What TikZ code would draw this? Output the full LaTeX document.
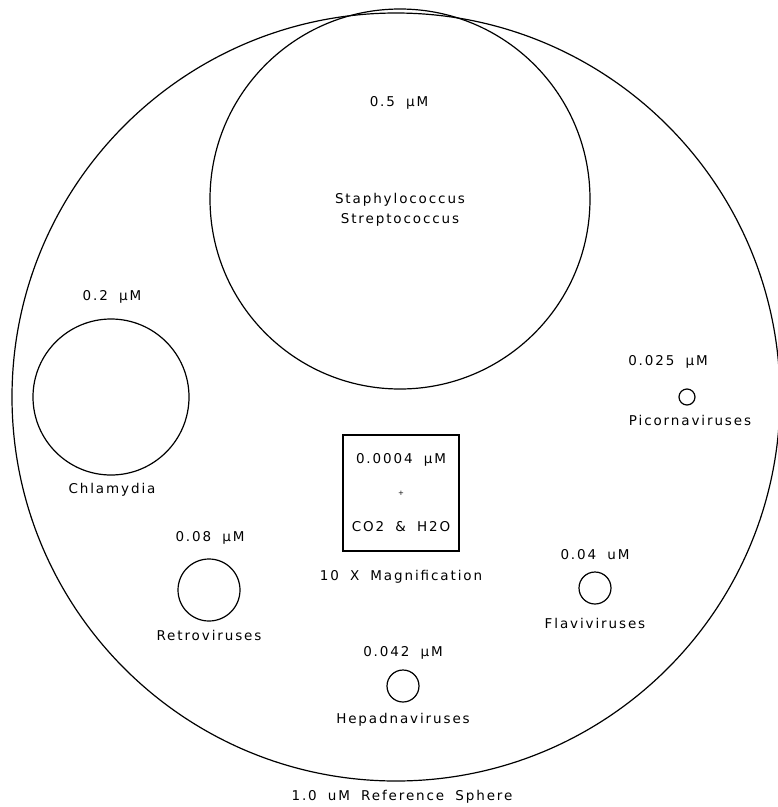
\documentclass[tikz,border=0pt]{standalone}
\usepackage{fontspec}
\newfontfamily\plotfont[LetterSpace=14,WordSpace=1.8]{DejaVu Sans}
\usetikzlibrary{positioning}

\begin{document}
\begin{tikzpicture}[x=1pt,y=-1pt]
  % Centres of the spheres
  \coordinate (ref) at (396,397);
  \coordinate (staph) at (400,199);
  \coordinate (chlam) at (111,397);
  \coordinate (retro) at (209,590);
  \coordinate (hepa) at (403,686);
  \coordinate (flavi) at (595,588);
  \coordinate (picorna) at (687,397);
  % Styles
  \tikzstyle{sphere}=[line width=1.2pt]
  \tikzstyle{label}=[font=\plotfont\fontsize{13.5}{20}\selectfont,inner sep=0pt,align=center]
  \tikzstyle{magbox}=[draw,line width=1.4pt,minimum width=116pt,minimum height=116pt,inner sep=0pt]

  % The graphic
  \useasboundingbox (0,0) rectangle (778,807);
  \draw[style=sphere] (ref) circle[radius=384pt];
  \draw[style=sphere] (staph) circle[radius=190pt];
  \draw[style=sphere] (chlam) circle[radius=78pt];
  \draw[style=sphere] (retro) circle[radius=31pt];
  \draw[style=sphere] (hepa) circle[radius=16pt];
  \draw[style=sphere] (flavi) circle[radius=16pt];
  \draw[style=sphere] (picorna) circle[radius=8pt];

  % Sizes and names
  \node[label] (staphsize) at (399,103) {0.5 μM};
  \node[label] (staphname) at (400,210) {Staphylococcus\\Streptococcus};
  \node[label] (chlamsize) at (112,297) {0.2 μM};
  \node[label] (chlamname) at (112,490) {Chlamydia};
  \node[label] (picornasize) at (668,362) {0.025 μM};
  \node[label] (picornaname) at (690,420) {Picornaviruses};
  \node[label] (retrosize) at (210,538) {0.08 μM};
  \node[label] (retroname) at (209,635) {Retroviruses};
  \node[label] (flavisize) at (595,555) {0.04 uM};
  \node[label] (flaviname) at (595,623) {Flaviviruses};
  \node[label] (hepasize) at (403,653) {0.042 μM};
  \node[label] (hepaname) at (403,720) {Hepadnaviruses};
  \node[label] (refname) at (402,797) {1.0 uM Reference Sphere};

  % Magnified box
  \node[magbox] (box) at (401,493) {};
  \node[label] (boxsize) at (401,460) {0.0004 μM};
  \node[label,font=\plotfont\fontsize{7}{8}\selectfont] (plus) at (401,493) {+};
  \node[label] (gas) at (401,527) {CO2 \& H2O};
  \node[label,below=18pt of box] (mag) {10 X Magnification};
\end{tikzpicture}
\end{document}
